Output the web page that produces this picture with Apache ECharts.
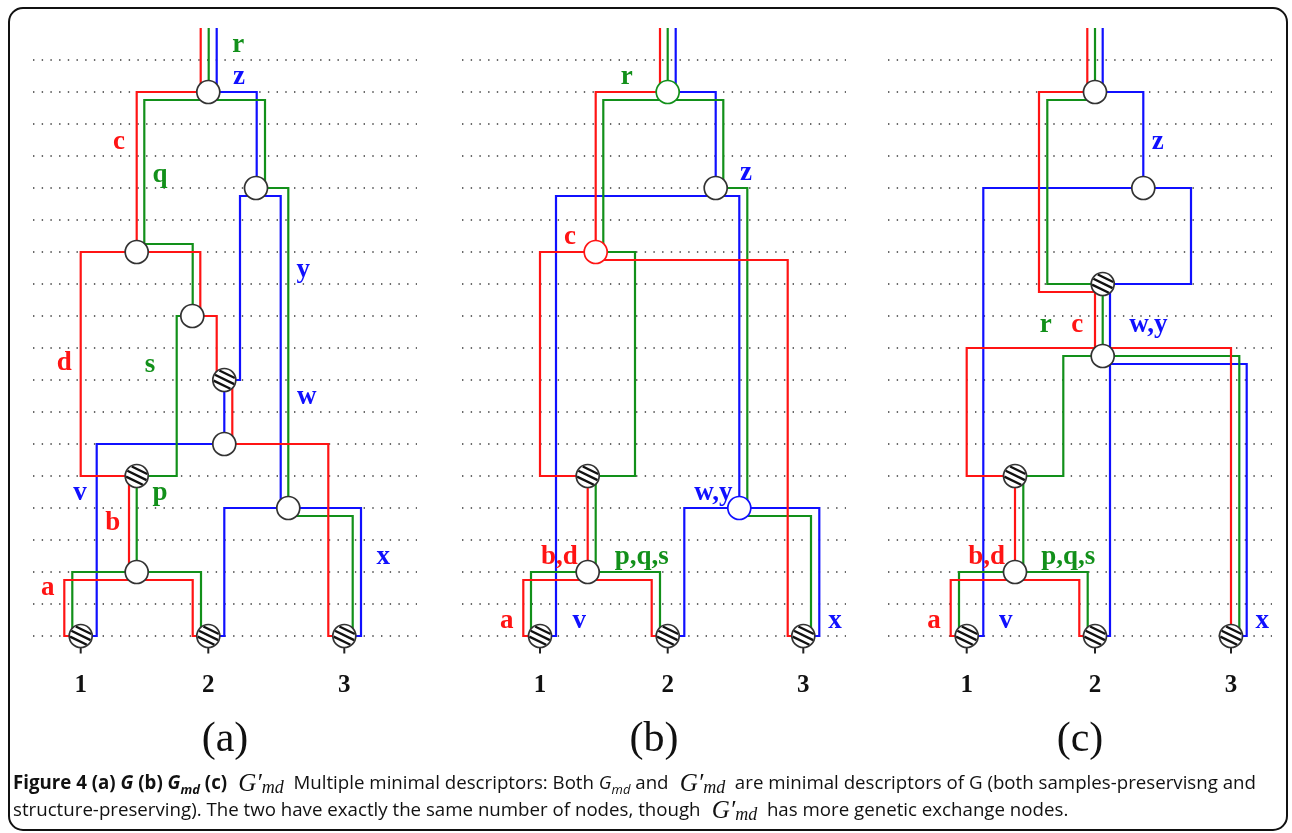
<!DOCTYPE html>
<html><head><meta charset="utf-8">
<script src="https://cdn.jsdelivr.net/npm/echarts@6/dist/echarts.min.js"></script>
<style>html,body{margin:0;padding:0;background:#fff}#c{width:1292px;height:833px}</style>
</head><body><div id="c"></div>
<script>
// ---------------- DATA ----------------
const panelTitles = ['(a)', '(b)', '(c)'];
const leafNames = ['1', '2', '3'];
const gridLevels = [0,1,2,3,4,5,6,7,8,9,10,11,12,13,14,15,16,17,18];

// panel (a): G
const redA = [
  [[167.7,-1],[167.7,1],[103.7,1],[103.7,6]],
  [[103.7,6],[47.7,6],[47.7,13],[103.7,13]],
  [[103.7,6],[167.3,6],[167.3,8]],
  [[159.3,8],[183.7,8],[183.7,10]],
  [[199.3,10],[199.3,12]],
  [[191.3,12],[295.3,12],[295.3,18],[311.3,18]],
  [[96,13],[96,16.25]],
  [[47.7,18],[31.3,18],[31.3,16.25],[159.7,16.25],[159.7,18],[175.3,18]]
];
const greenA = [
  [[175.7,-1],[175.7,1]],
  [[175.3,1.25],[111.3,1.25],[111.3,5.75],[159.7,5.75],[159.7,8]],
  [[159.3,8],[143.7,8],[143.7,13],[103.7,13]],
  [[103.7,13],[103.7,16]],
  [[39.3,18],[39.3,16],[168,16],[168,18]],
  [[175.3,1.25],[232,1.25],[232,4]],
  [[223,4],[255.3,4],[255.3,14]],
  [[255.3,14.25],[319.7,14.25],[319.7,18]]
];
const blueA = [
  [[183.7,-1],[183.7,1],[223.7,1],[223.7,4]],
  [[223,4.25],[207,4.25],[207,10],[191.3,10]],
  [[223,4.25],[247.7,4.25],[247.7,14]],
  [[191.3,10],[191.3,12]],
  [[191.3,12],[63.7,12],[63.7,18],[47.7,18]],
  [[175.3,18],[191.3,18],[191.3,14],[328,14],[328,18],[311.3,18]]
];
const nodesA = [
  [175.3,1,'open','k'],[103.7,6,'open','k'],[159.3,8,'open','k'],[223,4,'open','k'],
  [191.3,10,'hatch','k'],[191.3,12,'open','k'],[103.7,13,'hatch','k'],[255.3,14,'open','k'],
  [103.7,16,'open','k'],[47.7,18,'leaf','k'],[175.3,18,'leaf','k'],[311.3,18,'leaf','k']
];
const labelsA = [
  ['r','g',205.3,-0.47],['z','b',206,0.52],['c','r',86,2.55],['q','g',127,3.6],
  ['y','b',270.3,6.56],['d','r',31.3,9.48],['s','g',117,9.53],['w','b',273.7,10.52],
  ['v','b',47,13.54],['p','g',127,13.54],['b','r',79.7,14.48],['x','b',350.3,15.52],['a','r',14.7,16.5]
];

// panel (b): Gmd
const redB = [
  [[198,-1],[198,1],[133.7,1],[133.7,6]],
  [[133.7,6],[78,6],[78,13],[125.7,13]],
  [[133.7,6.25],[325.7,6.25],[325.7,18],[341.3,18]],
  [[125.7,13],[125.7,16]],
  [[78,18],[61.3,18],[61.3,16.25],[189.7,16.25],[189.7,18],[205.7,18]]
];
const greenB = [
  [[205.7,-1],[205.7,1]],
  [[205.7,1.25],[141.3,1.25],[141.3,6],[173,6],[173,13],[125.7,13]],
  [[133.7,13],[133.7,16]],
  [[69,18],[69,16],[198,16],[198,18]],
  [[205.7,1.25],[261.3,1.25],[261.3,4],[285.3,4],[285.3,14]],
  [[277.3,14.25],[349,14.25],[349,18]]
];
const blueB = [
  [[213.7,-1],[213.7,1],[253.7,1],[253.7,4]],
  [[253.7,4.25],[94,4.25],[94,18],[78,18]],
  [[253.7,4.25],[277.3,4.25],[277.3,14]],
  [[205.7,18],[222.3,18],[222.3,14],[357.3,14],[357.3,18],[341.3,18]]
];
const nodesB = [
  [205.7,1,'open','g'],[253.7,4,'open','k'],[133.7,6,'open','r'],[125.7,13,'hatch','k'],
  [277.3,14,'open','b'],[125.7,16,'open','k'],
  [78,18,'leaf','k'],[205.7,18,'leaf','k'],[341.3,18,'leaf','k']
];
const labelsB = [
  ['r','g',164.7,0.52],['z','b',284,3.54],['c','r',108,5.52],['w,y','b',251.3,13.54],
  ['b,d','r',97.3,15.52],['p,q,s','g',179.7,15.52],['a','r',44.7,17.53],['v','b',117.3,17.53],['x','b',373,17.53]
];

// panel (c): G'md
const redC = [
  [[199.3,-1],[199.3,1],[151,1],[151,7.25],[207,7.25],[207,9]],
  [[207,9],[78.7,9],[78.7,13],[127,13]],
  [[207,9],[343,9],[343,18]],
  [[127,13],[127,16]],
  [[78.7,18],[62.7,18],[62.7,16.25],[191.3,16.25],[191.3,18],[207,18]]
];
const greenC = [
  [[207,-1],[207,1]],
  [[207,1.25],[159.3,1.25],[159.3,7],[214.7,7]],
  [[214.7,7],[214.7,9.25]],
  [[214.7,9.25],[175.3,9.25],[175.3,13],[127,13]],
  [[214.7,9.25],[351.3,9.25],[351.3,18]],
  [[135.3,13],[135.3,16]],
  [[71,18],[71,16],[199.7,16],[199.7,18]]
];
const blueC = [
  [[214.7,-1],[214.7,1],[255.3,1],[255.3,4]],
  [[255.3,4],[95.3,4],[95.3,18],[78.7,18]],
  [[255.3,4],[303,4],[303,7],[214.7,7]],
  [[222,7],[222,18],[207,18]],
  [[222,9.5],[358.7,9.5],[358.7,18],[343,18]]
];
const nodesC = [
  [207,1,'open','k'],[255.3,4,'open','k'],[214.7,7,'hatch','k'],[214.7,9.25,'open','k'],
  [127,13,'hatch','k'],[127,16,'open','k'],
  [78.7,18,'leaf','k'],[207,18,'leaf','k'],[343,18,'leaf','k']
];
const labelsC = [
  ['z','b',269.7,2.55],['r','g',157.7,8.28],['c','r',189.3,8.28],['w,y','b',260.3,8.28],
  ['b,d','r',98.7,15.52],['p,q,s','g',180.3,15.52],['a','r',46,17.53],['v','b',117.7,17.53],['x','b',374.3,17.53]
];

// ---------------- STYLE / LAYOUT ----------------
const COLORS = { r: '#ff1414', g: '#12901a', b: '#1010ff', k: '#333333' };
const PANEL_LEFT = [33, 462, 888];
const PANEL_W = 384;
const X_MAX = 384;
const LEAF_LABEL_LEVEL = 19.55;
const TITLE_LEVEL = 21.25;
const TITLE_X = 192;
const R = 11.5;

const panels = [
  { red: redA, green: greenA, blue: blueA, nodes: nodesA, labels: labelsA },
  { red: redB, green: greenB, blue: blueB, nodes: nodesB, labels: labelsB },
  { red: redC, green: greenC, blue: blueC, nodes: nodesC, labels: labelsC }
];

const grids = [], xAxes = [], yAxes = [], series = [];
panels.forEach((p, gi) => {
  grids.push({ left: PANEL_LEFT[gi], top: 12, width: PANEL_W, height: 752 });
  xAxes.push({ type: 'value', gridIndex: gi, min: 0, max: X_MAX, show: false });
  yAxes.push({ type: 'value', gridIndex: gi, min: -1.5, max: 22, inverse: true, show: false });

  // dotted guide lines
  series.push({
    type: 'custom', xAxisIndex: gi, yAxisIndex: gi, z: 1, silent: true, animation: false,
    data: gridLevels.map(l => [0, l]),
    renderItem: (params, api) => {
      const l = gridLevels[params.dataIndex];
      const a = api.coord([0, l]), b = api.coord([X_MAX, l]);
      return { type: 'line', shape: { x1: a[0], y1: a[1], x2: b[0], y2: b[1] },
        style: { stroke: '#3a3a3a', lineWidth: 1.4, lineDash: [1.4, 7.3], lineCap: 'butt' } };
    }
  });

  // coloured paths
  [['blue', 'b'], ['green', 'g'], ['red', 'r']].forEach(([key, ck]) => {
    const paths = p[key];
    series.push({
      type: 'custom', xAxisIndex: gi, yAxisIndex: gi, z: 3, silent: true, animation: false,
      data: paths.map(pp => pp[0]),
      renderItem: (params, api) => {
        const pts = paths[params.dataIndex].map(pt => api.coord(pt));
        return { type: 'polyline', shape: { points: pts },
          style: { stroke: COLORS[ck], lineWidth: 2.2, fill: null, lineJoin: 'miter' } };
      }
    });
  });

  // nodes
  const nodes = p.nodes;
  series.push({
    type: 'custom', xAxisIndex: gi, yAxisIndex: gi, z: 5, silent: true, animation: false,
    data: nodes.map(n => [n[0], n[1]]),
    renderItem: (params, api) => {
      const n = nodes[params.dataIndex];
      const c = api.coord([n[0], n[1]]);
      const ch = [];
      if (n[2] === 'leaf') {
        ch.push({ type: 'line', shape: { x1: c[0], y1: c[1] + R, x2: c[0], y2: c[1] + R + 6 },
          style: { stroke: '#222', lineWidth: 2 } });
      }
      ch.push({ type: 'circle', shape: { cx: c[0], cy: c[1], r: R }, style: { fill: '#fff', stroke: null } });
      if (n[2] === 'hatch' || n[2] === 'leaf') {
        const th = 26 * Math.PI / 180;
        const dx = Math.cos(th), dy = Math.sin(th), nx = -Math.sin(th), ny = Math.cos(th);
        [-6.4, -0.6, 5.2].forEach(d => {
          const h = Math.sqrt(Math.max(0, (R - 0.8) * (R - 0.8) - d * d));
          const mx = c[0] + d * nx, my = c[1] + d * ny;
          ch.push({ type: 'line', shape: { x1: mx - h * dx, y1: my - h * dy, x2: mx + h * dx, y2: my + h * dy },
            style: { stroke: '#111', lineWidth: 2.4 } });
        });
      }
      ch.push({ type: 'circle', shape: { cx: c[0], cy: c[1], r: R },
        style: { fill: null, stroke: COLORS[n[3]], lineWidth: 1.7 } });
      return { type: 'group', children: ch };
    }
  });

  // edge labels
  const labels = p.labels;
  series.push({
    type: 'custom', xAxisIndex: gi, yAxisIndex: gi, z: 6, silent: true, animation: false,
    data: labels.map(l => [l[2], l[3]]),
    renderItem: (params, api) => {
      const l = labels[params.dataIndex];
      const c = api.coord([l[2], l[3]]);
      return { type: 'text', x: c[0], y: c[1],
        style: { text: l[0], fill: COLORS[l[1]], font: 'bold 27px "Liberation Serif", serif',
          align: 'center', verticalAlign: 'middle', textAlign: 'center', textVerticalAlign: 'middle' } };
    }
  });

  // leaf numbers + panel title
  const leaves = nodes.filter(n => n[2] === 'leaf');
  series.push({
    type: 'custom', xAxisIndex: gi, yAxisIndex: gi, z: 6, silent: true, animation: false,
    data: leaves.map(n => [n[0], LEAF_LABEL_LEVEL]).concat([[TITLE_X, TITLE_LEVEL]]),
    renderItem: (params, api) => {
      const i = params.dataIndex;
      const isTitle = i >= leaves.length;
      const c = api.coord(isTitle ? [TITLE_X, TITLE_LEVEL] : [leaves[i][0], LEAF_LABEL_LEVEL]);
      return { type: 'text', x: c[0], y: c[1],
        style: { text: isTitle ? panelTitles[gi] : leafNames[i], fill: '#111',
          font: isTitle ? '42px "Liberation Serif", serif' : 'bold 25px "Liberation Serif", serif',
          align: 'center', verticalAlign: 'middle', textAlign: 'center', textVerticalAlign: 'middle' } };
    }
  });
});

const SANS = '"Open Sans", "Noto Sans", sans-serif';
const SERIF = '"Liberation Serif", "DejaVu Serif", serif';
const FS = 18.7;
const rich = {
  fb:   { fontFamily: SANS, fontWeight: 'bold', fontSize: FS, lineHeight: 26, verticalAlign: 'middle', fill: '#111' },
  fbi:  { fontFamily: SANS, fontWeight: 'bold', fontStyle: 'italic', fontSize: FS, lineHeight: 26, verticalAlign: 'middle', fill: '#111' },
  fbis: { fontFamily: SANS, fontWeight: 'bold', fontStyle: 'italic', fontSize: 13, lineHeight: 14, verticalAlign: 'bottom', fill: '#111' },
  n:    { fontFamily: SANS, fontSize: FS, lineHeight: 26, verticalAlign: 'middle', fill: '#111' },
  ni:   { fontFamily: SANS, fontStyle: 'italic', fontSize: FS, lineHeight: 26, verticalAlign: 'middle', fill: '#111' },
  nis:  { fontFamily: SANS, fontStyle: 'italic', fontSize: 13, lineHeight: 14, verticalAlign: 'bottom', fill: '#111' },
  gm:   { fontFamily: SERIF, fontStyle: 'italic', fontSize: 25, lineHeight: 26, verticalAlign: 'middle', fill: '#111' },
  gms:  { fontFamily: SERIF, fontStyle: 'italic', fontSize: 18, lineHeight: 15, verticalAlign: 'bottom', fill: '#111' }
};
const captionLine1 = '{fb|Figure 4 (a) }{fbi|G}{fb| (b) }{fbi|G}{fbis|md}{fb| (c) }{gm| G′}{gms|md}{n|  Multiple minimal descriptors: Both }{ni|G}{nis|md}{n| and }{gm| G′}{gms|md}{n|  are minimal descriptors of G (both samples-preservisng and}';
const captionLine2 = '{n|structure-preserving). The two have exactly the same number of nodes, though }{gm| G′}{gms|md}{n|  has more genetic exchange nodes.}';

const chart = echarts.init(document.getElementById('c'), null, { renderer: 'canvas' });
chart.setOption({
  animation: false,
  backgroundColor: '#ffffff',
  grid: grids, xAxis: xAxes, yAxis: yAxes, series: series,
  graphic: [
    { type: 'rect', shape: { x: 9, y: 8, width: 1278, height: 822, r: 14 }, silent: true,
      style: { fill: null, stroke: '#111', lineWidth: 2 } },
    { type: 'text', x: 13, y: 784, silent: true,
      style: { text: captionLine1, rich: rich, verticalAlign: 'middle', textVerticalAlign: 'middle' } },
    { type: 'text', x: 13, y: 811, silent: true,
      style: { text: captionLine2, rich: rich, verticalAlign: 'middle', textVerticalAlign: 'middle' } }
  ]
});
</script></body></html>
